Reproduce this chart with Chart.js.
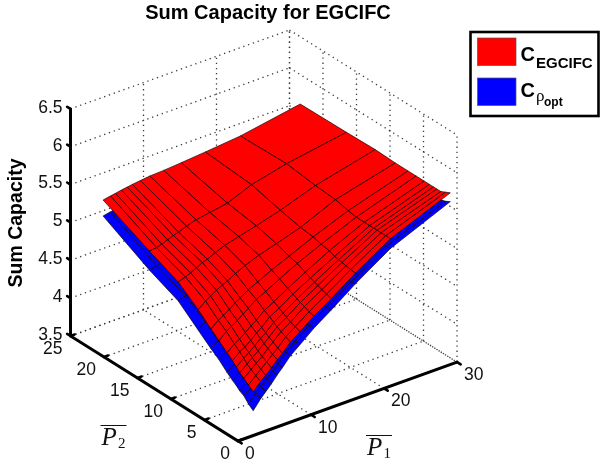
<!DOCTYPE html>
<html>
<head>
<meta charset="utf-8">
<title>Sum Capacity for EGCIFC</title>
<script src="https://cdn.jsdelivr.net/npm/chart.js@4/dist/chart.umd.js"></script>
<style>
  html, body { margin: 0; padding: 0; background: #fff; }
  canvas { display: block; }
</style>
</head>
<body>
<canvas id="surfaceChart" width="600" height="465"></canvas>
<script>
// axis ticks
const p1Ticks = [0, 10, 20, 30];
const p2Ticks = [0, 5, 10, 15, 20, 25];
const capacityTicks = [3.5, 4, 4.5, 5, 5.5, 6, 6.5];

// surface grid
const p1Grid = [3, 4, 4.7, 5.5, 6.3, 7, 8.1, 9.4, 11.3, 13.7, 17, 21.8, 30];
const p2Grid = [23.4, 16.5, 12.2, 9.2, 7.3, 6.1, 4.9, 4.1, 3.5, 3, 2.4, 1.7, 1];

// one row per p2Grid value, one column per p1Grid value
const capacityEgcifc = [
  [5.281, 5.30, 5.31, 5.326, 5.337, 5.348, 5.361, 5.376, 5.384, 5.402, 5.429, 5.474, 5.611],
  [4.99, 5.00, 5.02, 5.05, 5.08, 5.10, 5.14, 5.18, 5.21, 5.25, 5.38, 5.49, 5.62],
  [4.82, 4.85, 4.88, 4.92, 4.96, 4.98, 5.03, 5.08, 5.13, 5.19, 5.28, 5.44, 5.63],
  [4.62, 4.70, 4.74, 4.79, 4.83, 4.86, 4.92, 4.98, 5.05, 5.12, 5.22, 5.42, 5.62],
  [4.47, 4.55, 4.59, 4.64, 4.70, 4.74, 4.81, 4.87, 4.96, 5.06, 5.20, 5.38, 5.62],
  [4.38, 4.47, 4.51, 4.56, 4.62, 4.67, 4.75, 4.81, 4.91, 5.03, 5.17, 5.36, 5.62],
  [4.29, 4.37, 4.41, 4.47, 4.53, 4.58, 4.67, 4.74, 4.85, 4.98, 5.15, 5.36, 5.62],
  [4.23, 4.31, 4.35, 4.41, 4.48, 4.53, 4.63, 4.70, 4.82, 4.95, 5.12, 5.36, 5.62],
  [4.18, 4.26, 4.31, 4.37, 4.44, 4.49, 4.59, 4.67, 4.79, 4.93, 5.11, 5.36, 5.62],
  [4.13, 4.21, 4.27, 4.33, 4.40, 4.46, 4.56, 4.64, 4.77, 4.91, 5.10, 5.36, 5.62],
  [4.09, 4.17, 4.23, 4.29, 4.37, 4.43, 4.53, 4.61, 4.75, 4.89, 5.09, 5.36, 5.62],
  [4.04, 4.13, 4.19, 4.26, 4.33, 4.39, 4.50, 4.59, 4.72, 4.87, 5.08, 5.36, 5.65],
  [3.99, 4.09, 4.15, 4.22, 4.30, 4.36, 4.47, 4.56, 4.70, 4.85, 5.07, 5.36, 5.68],
];

const capacityOpt = [
  [5.07, 5.09, 5.10, 5.12, 5.14, 5.15, 5.16, 5.18, 5.19, 5.21, 5.25, 5.31, 5.49],
  [4.74, 4.76, 4.78, 4.80, 4.84, 4.86, 4.91, 4.95, 4.99, 5.04, 5.18, 5.31, 5.50],
  [4.57, 4.60, 4.62, 4.66, 4.71, 4.73, 4.79, 4.85, 4.91, 4.98, 5.09, 5.27, 5.51],
  [4.35, 4.43, 4.48, 4.53, 4.58, 4.62, 4.68, 4.75, 4.83, 4.91, 5.03, 5.25, 5.50],
  [4.21, 4.28, 4.33, 4.39, 4.45, 4.50, 4.57, 4.65, 4.75, 4.86, 5.01, 5.21, 5.50],
  [4.13, 4.21, 4.26, 4.31, 4.38, 4.43, 4.52, 4.59, 4.70, 4.83, 4.98, 5.19, 5.50],
  [4.03, 4.11, 4.16, 4.23, 4.29, 4.35, 4.44, 4.52, 4.64, 4.78, 4.96, 5.19, 5.50],
  [3.97, 4.05, 4.11, 4.17, 4.24, 4.30, 4.40, 4.48, 4.61, 4.75, 4.93, 5.19, 5.50],
  [3.93, 4.00, 4.07, 4.13, 4.20, 4.26, 4.36, 4.45, 4.58, 4.73, 4.92, 5.19, 5.50],
  [3.89, 3.97, 4.03, 4.09, 4.16, 4.23, 4.33, 4.42, 4.56, 4.71, 4.91, 5.20, 5.50],
  [3.86, 3.93, 3.99, 4.06, 4.14, 4.20, 4.31, 4.40, 4.54, 4.70, 4.91, 5.21, 5.51],
  [3.79, 3.90, 3.96, 4.03, 4.11, 4.17, 4.30, 4.39, 4.54, 4.70, 4.91, 5.22, 5.53],
  [3.74, 3.86, 3.93, 4.01, 4.10, 4.17, 4.29, 4.39, 4.54, 4.70, 4.93, 5.23, 5.565],
];

// orthographic view of the 3D box, result is in the units of the hidden x/y scales
const view = { x0: 238, y0: 24, p1: [7.3, 2.63], p2: [-6.7, 4.2], z: 75.7 };

function project(a, b, c) {
  return {
    x: view.x0 + a * view.p1[0] + b * view.p2[0],
    y: view.y0 + a * view.p1[1] + b * view.p2[1] + (c - 3.5) * view.z,
  };
}

const zMin = capacityTicks[0];
const zMax = capacityTicks[capacityTicks.length - 1];
const p1Max = p1Ticks[p1Ticks.length - 1];
const p2Max = p2Ticks[p2Ticks.length - 1];

// paint order, first pushed ends up at the back
const layers = [];

function addLine(points, color, width, dash) {
  layers.push({
    data: points,
    showLine: true,
    borderColor: color,
    borderWidth: width,
    borderDash: dash || [],
    borderCapStyle: dash ? "butt" : "round",
    pointRadius: 0,
    fill: false,
  });
}

function addDotted(points) {
  addLine(points, "#3a3a3a", 1.3, [1.3, 3.8]);
}

//dotted box grid: floor, and the two back walls
p1Ticks.forEach((a) => {
  addDotted([project(a, 0, zMin), project(a, p2Max, zMin)]);
  addDotted([project(a, p2Max, zMin), project(a, p2Max, zMax)]);
});
p2Ticks.forEach((b) => {
  addDotted([project(0, b, zMin), project(p1Max, b, zMin)]);
  addDotted([project(p1Max, b, zMin), project(p1Max, b, zMax)]);
});
capacityTicks.forEach((c) => {
  addDotted([project(0, p2Max, c), project(p1Max, p2Max, c)]);
  addDotted([project(p1Max, p2Max, c), project(p1Max, 0, c)]);
});

//solid axes with their small ticks
addLine([project(0, p2Max, zMax), project(0, p2Max, zMin), project(0, 0, zMin), project(p1Max, 0, zMin)], "#000", 3);
p1Ticks.forEach((a) => addLine([project(a, 0, zMin), project(a, -0.55, zMin)], "#000", 2.6));
p2Ticks.forEach((b) => addLine([project(0, b, zMin), project(0.55, b, zMin)], "#000", 2.6));
capacityTicks.forEach((c) => addLine([project(0, p2Max, c), project(0, p2Max + 0.5, c)], "#000", 2.6));

function addSurface(values, color) {
  for (let i = p1Grid.length - 2; i >= 0; i--) {
    for (let j = 0; j < p2Grid.length - 1; j++) {
      const corner1 = project(p1Grid[i], p2Grid[j], values[j][i]);
      layers.push({
        data: [
          corner1,
          project(p1Grid[i + 1], p2Grid[j], values[j][i + 1]),
          project(p1Grid[i + 1], p2Grid[j + 1], values[j + 1][i + 1]),
          project(p1Grid[i], p2Grid[j + 1], values[j + 1][i]),
          corner1,
        ],
        showLine: true,
        fill: "shape",
        backgroundColor: color,
        borderColor: "rgba(20,0,0,0.85)",
        borderWidth: 0.8,
        pointRadius: 0,
      });
    }
  }
}

addSurface(capacityOpt, "#0000ff");
addSurface(capacityEgcifc, "#ff0000");

const serif = '"Liberation Serif", serif';
const sans = '"Liberation Sans", Arial, sans-serif';

function drawText(ctx, text, x, y, font, align, baseline) {
  ctx.font = font;
  ctx.textAlign = align || "left";
  ctx.textBaseline = baseline || "alphabetic";
  ctx.fillText(text, x, y);
}

function drawAxisName(ctx, sub, x, y) {
  drawText(ctx, "P", x, y, "italic 25px " + serif);
  drawText(ctx, sub, x + 16.5, y + 3, "15px " + serif);
  ctx.lineWidth = 1;
  ctx.beginPath();
  ctx.moveTo(x - 1, y - 19.5);
  ctx.lineTo(x + 25, y - 19.5);
  ctx.stroke();
}

function drawLegend(ctx) {
  ctx.strokeStyle = "#000";
  ctx.lineWidth = 2.6;
  ctx.strokeRect(470.5, 32, 128, 84);

  ctx.lineWidth = 0.7;
  ctx.strokeStyle = "#555";
  ctx.fillStyle = "#ff0000";
  ctx.fillRect(477.5, 38, 38.5, 27.5);
  ctx.strokeRect(477.5, 38, 38.5, 27.5);
  ctx.fillStyle = "#0000ff";
  ctx.fillRect(477.5, 78, 38.5, 27.5);
  ctx.strokeRect(477.5, 78, 38.5, 27.5);

  ctx.fillStyle = "#000";
  drawText(ctx, "C", 520.5, 61, "bold 20px " + sans);
  drawText(ctx, "EGCIFC", 536, 68, "bold 15px " + sans);
  drawText(ctx, "C", 520.5, 97, "bold 20px " + sans);
  drawText(ctx, "\u03C1", 536, 101, "17px " + serif);
  drawText(ctx, "opt", 544, 106, "bold 12px " + sans);
}

// tick labels, axis names and legend need sub/superscripts, so they go on by hand
const textPlugin = {
  id: "surfaceText",
  afterDraw(chart) {
    const ctx = chart.ctx;
    const sx = chart.scales.x;
    const sy = chart.scales.y;
    const at = (p) => ({ x: sx.getPixelForValue(p.x), y: sy.getPixelForValue(p.y) });
    const tickFont = "17.5px " + sans;

    ctx.save();
    ctx.fillStyle = "#111";
    ctx.strokeStyle = "#111";

    capacityTicks.forEach((c) => {
      const p = at(project(0, p2Max, c));
      drawText(ctx, String(c), p.x - 8, p.y - 1, tickFont, "right", "middle");
    });
    p1Ticks.forEach((a) => {
      const p = at(project(a, 0, zMin));
      drawText(ctx, String(a), p.x + 7, p.y + 13, tickFont, "left", "middle");
    });
    p2Ticks.forEach((b) => {
      const p = at(project(0, b, zMin));
      drawText(ctx, String(b), p.x - 8, p.y + 13, tickFont, "right", "middle");
    });

    drawAxisName(ctx, "1", 367, 455);
    drawAxisName(ctx, "2", 101.5, 445);

    ctx.save();
    ctx.translate(17, 223);
    ctx.rotate(-Math.PI / 2);
    ctx.fillStyle = "#000";
    drawText(ctx, "Sum Capacity", 0, 0, "bold 19.5px " + sans, "center", "middle");
    ctx.restore();

    drawLegend(ctx);
    ctx.restore();
  },
};

new Chart(document.getElementById("surfaceChart"), {
  type: "scatter",
  // chart.js paints dataset 0 last
  data: { datasets: layers.slice().reverse() },
  plugins: [textPlugin],
  options: {
    responsive: false,
    animation: false,
    events: [],
    layout: { padding: { right: 64 } },
    elements: { line: { tension: 0 } },
    scales: {
      x: { type: "linear", display: false, min: 0, max: 536 },
      y: { type: "linear", display: false, min: 0, max: 440 },
    },
    plugins: {
      legend: { display: false },
      tooltip: { enabled: false },
      title: {
        display: true,
        text: "Sum Capacity for EGCIFC",
        color: "#000",
        font: { family: sans, size: 20, weight: "bold" },
        padding: { top: 1, bottom: 0 },
      },
    },
  },
});
</script>
</body>
</html>
